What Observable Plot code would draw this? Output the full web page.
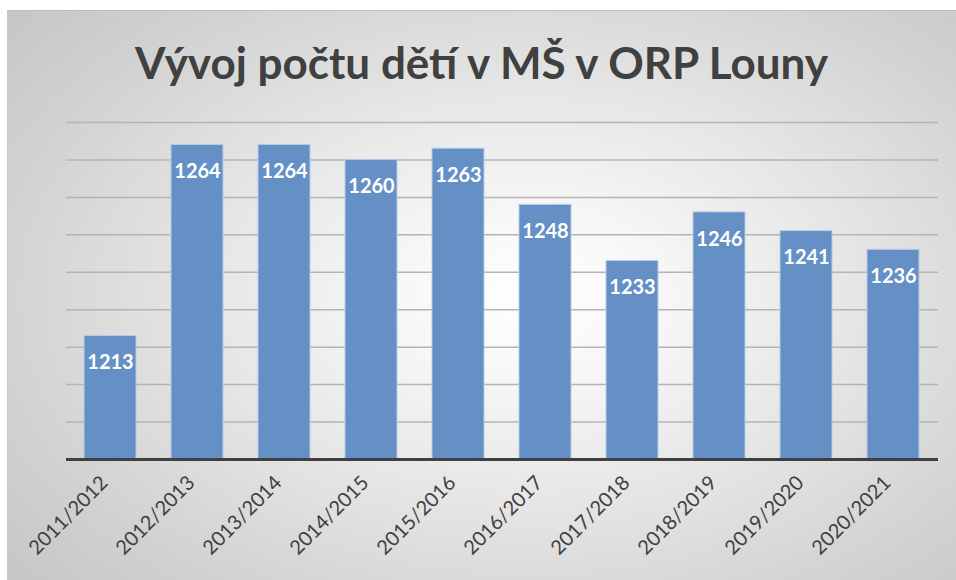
<!DOCTYPE html>
<html>
<head>
<meta charset="utf-8">
<script src="https://cdn.jsdelivr.net/npm/d3@7"></script>
<script src="https://cdn.jsdelivr.net/npm/@observablehq/plot@0.6"></script>
<style>
  html, body { margin: 0; padding: 0; background: #ffffff; }
  #page { position: relative; width: 956px; height: 580px; overflow: hidden; }
  #bg { position: absolute; left: 7px; top: 10px; width: 949px; height: 570px;
        border-top: 1px solid #bdbdbd; border-left: 1px solid #c8c8c8;
        background: radial-gradient(ellipse 75% 80% at 55% 50%, #ffffff 0%, #f7f7f7 18%, #e6e6e6 45%, #d2d2d2 75%, #c4c4c4 100%); }
  #title { position: absolute; left: 7px; width: 949px; top: 36px; text-align: center;
           font-family: Lato, "Open Sans", sans-serif; font-weight: 700; font-size: 44px;
           color: #404040; line-height: 52px; white-space: nowrap; }
  #chart { position: absolute; left: 0; top: 100px; }
</style>
</head>
<body>
<div id="page">
  <div id="bg"></div>
  <div id="title">Vývoj počtu dětí v MŠ v ORP Louny</div>
  <div id="chart"></div>
</div>
<script>
const years = ["2011/2012","2012/2013","2013/2014","2014/2015","2015/2016","2016/2017","2017/2018","2018/2019","2019/2020","2020/2021"];
const counts = [1213, 1264, 1264, 1260, 1263, 1248, 1233, 1246, 1241, 1236];
const gridTicks = [1190, 1200, 1210, 1220, 1230, 1240, 1250, 1260, 1270];

const data = years.map((y, i) => ({year: y, count: counts[i]}));
const base = 1180;

const chart = Plot.plot({
  width: 956,
  height: 480,
  marginTop: 22,
  marginBottom: 121,
  marginLeft: 66,
  marginRight: 18,
  style: {background: "transparent", fontFamily: "Lato, 'Open Sans', sans-serif", overflow: "visible"},
  x: {domain: years, paddingInner: 0.4, paddingOuter: 0.2, label: null},
  y: {domain: [base, 1270], label: null, axis: null},
  marks: [
    Plot.ruleY(gridTicks, {stroke: "#b4b4b4", strokeWidth: 1.5}),
    Plot.barY(data, {x: "year", y1: base, y2: "count", fill: "#6590c6", stroke: "#b8cce6", strokeWidth: 1}),
    Plot.ruleY([base], {stroke: "#404040", strokeWidth: 3}),
    Plot.text(data, {x: "year", y: "count", text: d => String(d.count), dy: 27, fill: "white", fontWeight: 700, fontSize: 20}),
    Plot.axisX({tickSize: 0, tickRotate: -45, tickPadding: 20, fontSize: 20, fill: "#404040", textAnchor: "end", dx: -6})
  ]
});
document.getElementById("chart").appendChild(chart);
</script>
</body>
</html>
